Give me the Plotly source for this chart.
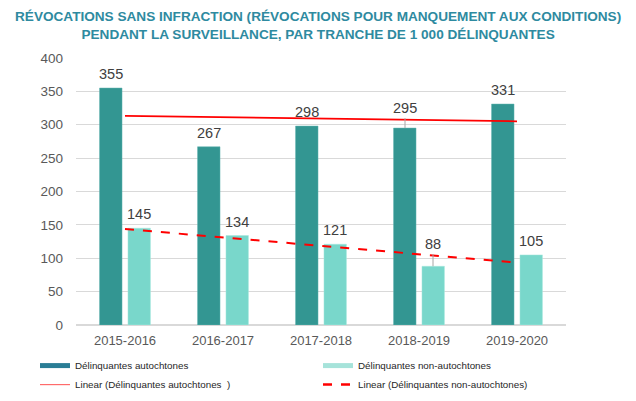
import numpy as np
import plotly.graph_objects as go

categories = ["2015-2016", "2016-2017", "2017-2018", "2018-2019", "2019-2020"]
autochtones = [355, 267, 298, 295, 331]
non_autochtones = [145, 134, 121, 88, 105]

title_text = ("RÉVOCATIONS SANS INFRACTION (RÉVOCATIONS POUR MANQUEMENT AUX CONDITIONS)<br>"
              "PENDANT LA SURVEILLANCE, PAR TRANCHE DE 1 000 DÉLINQUANTES")
name_a = "Délinquantes autochtones"
name_n = "Délinquantes non-autochtones"
name_ta = "Linear (Délinquantes autochtones  )"
name_tn = "Linear (Délinquantes non-autochtones)"

DARK = "#339692"
LIGHT = "#79d7cb"
DARK_LEG = "#2a7d95"
LIGHT_LEG = "#a6e3da"
RED = "#ff0000"
TXT = "#595959"
FONT = "Arial, Liberation Sans, sans-serif"

idx = np.arange(len(categories))
fa = np.polyfit(idx, autochtones, 1)
fn = np.polyfit(idx, non_autochtones, 1)
trend_a = np.polyval(fa, idx)
trend_n = np.polyval(fn, idx)

fig = go.Figure()
fig.add_bar(x=categories, y=autochtones, marker=dict(color=DARK, line=dict(color="#5fb3ae", width=0.5)),
            showlegend=False, name=name_a)
fig.add_bar(x=categories, y=non_autochtones, marker=dict(color=LIGHT, line=dict(color="#a8e8df", width=0.5)),
            showlegend=False, name=name_n)
fig.add_scatter(x=categories, y=trend_a, mode="lines", line=dict(color=RED, width=1.8),
                showlegend=False, hoverinfo="skip")
fig.add_scatter(x=categories, y=trend_n, mode="lines", line=dict(color=RED, width=2, dash="dash"),
                showlegend=False, hoverinfo="skip")

# legend-only entries (two legend columns)
fig.add_scatter(x=[None], y=[None], mode="lines", line=dict(color=DARK_LEG, width=5), name=name_a,
                legend="legend")
fig.add_scatter(x=[None], y=[None], mode="lines", line=dict(color="#ff6b6b", width=1.2), name=name_ta,
                legend="legend")
fig.add_scatter(x=[None], y=[None], mode="lines", line=dict(color=LIGHT_LEG, width=5), name=name_n,
                legend="legend2")
fig.add_scatter(x=[None], y=[None], mode="lines", line=dict(color=RED, width=2.5, dash="dash"), name=name_tn,
                legend="legend2")

lifted = {("a", 3): 10, ("n", 3): 12}
for key, vals, xs in (("a", autochtones, -14), ("n", non_autochtones, 14)):
    for i, (c, v) in enumerate(zip(categories, vals)):
        lift = lifted.get((key, i))
        if lift:
            fig.add_annotation(x=c, y=v, xshift=xs, text=str(v), showarrow=True, ax=0, ay=-lift,
                               arrowhead=0, arrowwidth=1, arrowcolor="#a6a6a6", standoff=0,
                               yanchor="bottom", font=dict(size=14.5, color="#404040", family=FONT))
        else:
            fig.add_annotation(x=c, y=v, xshift=xs, yshift=4, text=str(v), showarrow=False,
                               yanchor="bottom", font=dict(size=14.5, color="#404040", family=FONT))

# title as annotation
fig.add_annotation(text="<b>" + title_text.replace("<br>", "</b><br><b>") + "</b>",
                   xref="paper", yref="paper", x=0.494, y=1.121, xanchor="center", yanchor="middle",
                   showarrow=False, align="center",
                   font=dict(family=FONT, size=13.6, color="#2e8aa0"))

leg_common = dict(orientation="v", xref="container", yref="container", xanchor="left",
                  yanchor="top", tracegroupgap=0, itemwidth=30, bgcolor="rgba(0,0,0,0)",
                  font=dict(family=FONT, size=9.8, color="#262626"))

fig.update_layout(
    width=628, height=393,
    margin=dict(l=68, r=70, t=50, b=76, autoexpand=False),
    paper_bgcolor="white", plot_bgcolor="white",
    barmode="group", bargap=0.42, bargroupgap=0.21,
    font=dict(family=FONT, color=TXT),
    xaxis=dict(type="category", showgrid=False, showline=False, ticks="",
               tickfont=dict(size=13, color=TXT), ticklabelstandoff=6),
    yaxis=dict(range=[0, 400], dtick=50, showgrid=True, gridcolor="#d9d9d9", gridwidth=1,
               zeroline=True, zerolinecolor="#d9d9d9", showline=False, ticks="",
               tickfont=dict(size=13.5, color=TXT), ticklabelstandoff=12),
    legend=dict(x=27 / 628, y=0.127, **leg_common),
    legend2=dict(x=310 / 628, y=0.127, **leg_common),
    showlegend=True,
)

fig.write_html("out.html")
